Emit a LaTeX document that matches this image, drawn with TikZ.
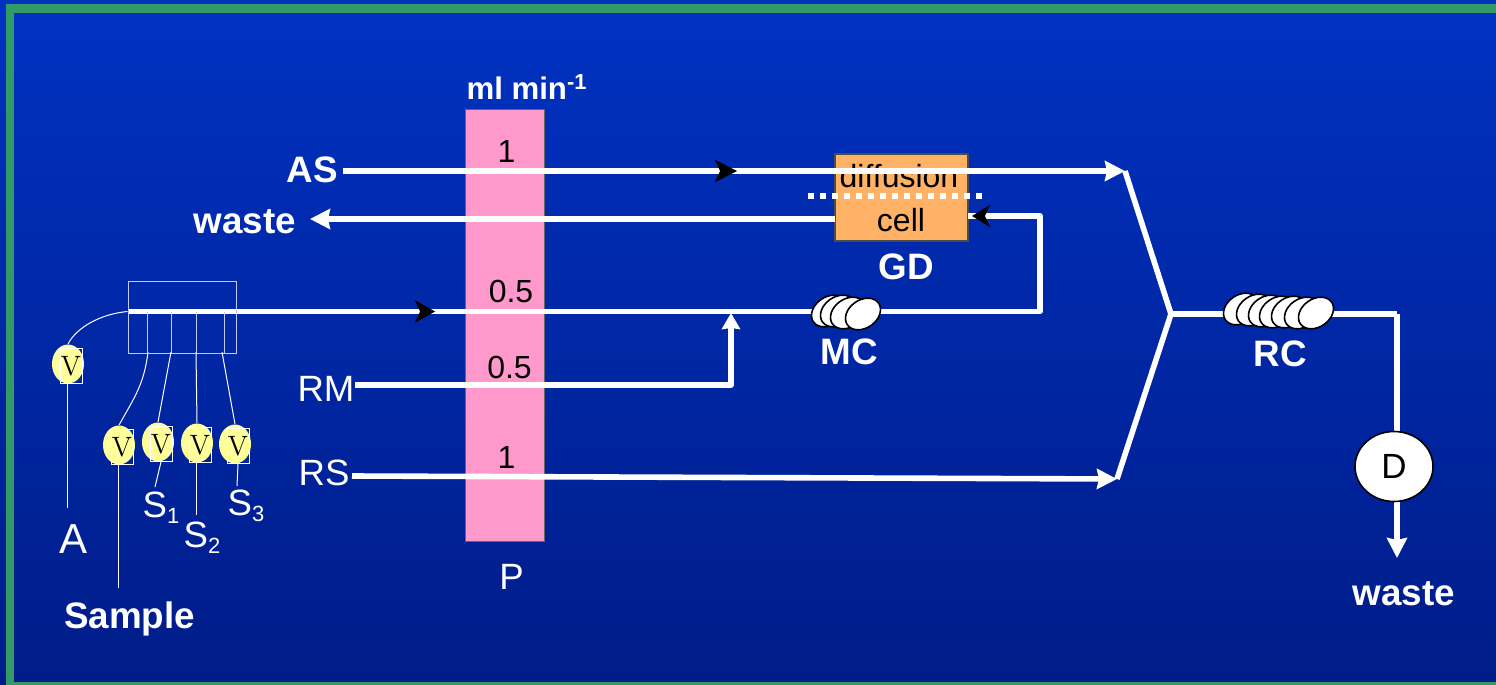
\documentclass[tikz,border=0pt]{standalone}
\usepackage{fontspec}
\setmainfont{Liberation Sans}
\usepackage{tikz}
\usetikzlibrary{arrows.meta,shapes.geometric,decorations.markings}
\definecolor{framegreen}{HTML}{339966}
\definecolor{pumppink}{HTML}{FF99CC}
\definecolor{cellorange}{HTML}{FFB266}
\definecolor{valveyellow}{HTML}{FFFF99}
\definecolor{skytop}{RGB}{0,50,194}
\definecolor{skybottom}{RGB}{0,28,136}
\newcommand{\lowsub}[1]{\raisebox{-3pt}{\fontsize{11}{12}\selectfont #1}}
\tikzset{
	flowline/.style={draw=white,line width=2.8pt,line join=round},
	flowtip/.style={-{Stealth[length=10pt,width=10pt,inset=1pt]}},
	thinline/.style={draw=white,line width=0.5pt},
	boxline/.style={draw=white!75!skytop,line width=0.5pt},
	midtip/.style={postaction={decorate},decoration={markings,mark=at position #1 with {\arrow{Stealth[length=11pt,width=11pt,inset=2.5pt,black]}}}},
	twotips/.style 2 args={postaction={decorate},decoration={markings,
		mark=at position #1 with {\arrow{Stealth[length=10pt,width=11pt,inset=2.5pt,black]}},
		mark=at position #2 with {\arrow{Stealth[length=9pt,width=11pt,inset=2.5pt,black]}}}},
	boldlabel/.style={text=white,font=\fontsize{18.4}{20}\selectfont\bfseries,inner sep=0pt},
	pluslabel/.style={text=white,font=\fontsize{18.3}{20}\selectfont,inner sep=0pt},
	ratelabel/.style={text=black,font=\fontsize{16}{18}\selectfont,inner sep=0pt},
	valvebody/.style={ellipse,fill=valveyellow,inner sep=0pt,minimum width=16pt,minimum height=19.5pt},
	valvebox/.style={draw=white,line width=0.5pt,inner sep=0pt,minimum width=11pt,minimum height=17.5pt,text=black,font=\fontfamily{lmr}\fontsize{14}{15}\selectfont},
	coilturn/.style={ellipse,draw=black,fill=white,line width=0.8pt,inner sep=0pt,minimum width=19pt,minimum height=14pt,rotate=35},
}
\begin{document}
\begin{tikzpicture}[x=0.5pt,y=-0.5pt]
\useasboundingbox (0,0) rectangle (1496,685);
% background and frame
\shade[top color=skytop,bottom color=skybottom] (0,0) rectangle (1496,685);
\fill[framegreen] (6,4) rectangle (1496,13);
\fill[framegreen] (6,4) rectangle (14,685);
\fill[framegreen] (6,682) rectangle (1496,685);

% pump and cell
\node[draw=black!60,line width=0.5pt,fill=pumppink,minimum width=39.5pt,minimum height=216pt,inner sep=0pt] (pump) at (504.5,325) {};
\node[draw=black!70,line width=0.6pt,fill=cellorange,minimum width=66.5pt,minimum height=43.5pt,inner sep=0pt] (cell) at (901.5,197.5) {};
\node[ratelabel] (diffusion) at (899,176) {diffusion};
\node[ratelabel] (celltext) at (901,220) {cell};

% named points of the lines
\coordinate (asin) at (343,171);
\coordinate (joinup) at (1125,171);
\coordinate (joinmid) at (1171,314);
\coordinate (joindown) at (1117,479);
\coordinate (wasteout) at (310,219);
\coordinate (cellout) at (835,219);
\coordinate (cellin) at (968,216);
\coordinate (turnup) at (1040,311.5);
\coordinate (turnleft) at (1040,216);
\coordinate (manifold) at (128,311.5);
\coordinate (rmin) at (355,385);
\coordinate (rmturn) at (731,385);
\coordinate (rmend) at (731,313);
\coordinate (rsin) at (352,476);
\coordinate (dturn) at (1397,314);
\coordinate (dend) at (1397,558);
\coordinate (dotleft) at (808,195.5);
\coordinate (dotright) at (986,195.5);

% flow lines
\draw[flowline,midtip=0.504,-{Stealth[length=10pt,width=10pt,inset=1pt]}] (asin) -- (joinup);
\draw[flowline,flowtip] (cellout) -- (wasteout);
\draw[flowline,twotips={0.2845}{0.9963}] (manifold) -- (turnup) -- (turnleft) -- (cellin);
\draw[flowline,-{Stealth[length=8pt,width=9pt,inset=0.5pt]}] (rmin) -- (rmturn) -- (rmend);
\draw[flowline,flowtip] (rsin) -- (joindown);
\draw[flowline] (joinup) -- (joinmid) -- (joindown);
\draw[flowline] (joinmid) -- (dturn);
\draw[flowline,flowtip] (dturn) -- (dend);
\draw[white,line width=3pt,dash pattern=on 3pt off 3pt] (dotleft) -- (dotright);

% coils
\foreach \x/\y in {829/311,838/311,848/313,863/314}
	\node[coilturn] (mc\x) at (\x,\y) {};
\foreach \x/\y in {1241/309,1254/310,1266/311,1277/312,1289/312,1302/313,1316/313}
	\node[coilturn] (rc\x) at (\x,\y) {};
\node[ellipse,draw=black,fill=white,line width=0.8pt,minimum width=39pt,minimum height=35pt,inner sep=0pt,font=\fontsize{17.5}{18}\selectfont] (detector) at (1394,466.5) {D};

% manifold and valves
\node[boxline,minimum width=54pt,minimum height=36pt,inner sep=0pt] (mbox) at (182,317) {};
\foreach \name/\x/\y in {a/68/364,s/119/445,one/158/442,two/197/443,three/235/444}{
	\node[valvebody] (valve\name) at (\x,\y) {};
	\node[valvebox] (box\name) at (\x+3,\y+2) {V};
}
\coordinate (porta) at (147,312);
\coordinate (portb) at (171,312);
\coordinate (portc) at (196,312);
\coordinate (portd) at (224,312);
\foreach \port in {porta,portb,portc,portd}
	\draw[boxline] (\port) -- (\port |- mbox.south);
\draw[thinline] (mbox.west |- manifold) .. controls (100,314) and (76,328) .. (valvea.north);
\draw[thinline] (148,352) .. controls (144,385) and (134,398) .. (valves.north);
\draw[thinline] (171,352) -- (valveone.north);
\draw[thinline] (196,352) -- (valvetwo.north);
\draw[thinline] (222,352) -- (valvethree.north);

% labels below the valves
\coordinate (enda) at (67,508);
\coordinate (ends) at (118,588);
\coordinate (endone) at (155,487);
\coordinate (endtwo) at (196,515);
\coordinate (endthree) at (237,486);
\draw[thinline] (boxa.south -| enda) -- (enda);
\draw[thinline] (boxs.south -| ends) -- (ends);
\draw[thinline] (boxone.south) -- (endone);
\draw[thinline] (boxtwo.south -| endtwo) -- (endtwo);
\draw[thinline] (boxthree.south) -- (endthree);

\node[text=white,font=\fontsize{21}{22}\selectfont,inner sep=0pt] (labela) at (74,539) {A};
\node[pluslabel] (labelone) at (161,508) {S\lowsub{1}};
\node[pluslabel] (labeltwo) at (202,538) {S\lowsub{2}};
\node[pluslabel] (labelthree) at (246,506) {S\lowsub{3}};
\node[boldlabel] (sample) at (129.5,619) {Sample};
\node[boldlabel] (as) at (312,170) {AS};
\node[boldlabel] (wastea) at (245,222) {waste};
\node[pluslabel] (rm) at (326,389) {RM};
\node[pluslabel] (rs) at (324,473) {RS};
\node[boldlabel] (gd) at (906.5,267) {GD};
\node[boldlabel] (mc) at (849.5,352) {MC};
\node[boldlabel] (rc) at (1280,354) {RC};
\node[boldlabel] (wasteb) at (1404,594) {waste};
\node[pluslabel] (pumplabel) at (511.5,577) {P};
\node[boldlabel,font=\fontsize{15.6}{18}\selectfont\bfseries] (rate) at (527,87) {ml min\textsuperscript{-1}};
\node[ratelabel] (ratea) at (506.5,151) {1};
\node[ratelabel] (rateb) at (511,291) {0.5};
\node[ratelabel] (ratec) at (509.5,367) {0.5};
\node[ratelabel] (rated) at (506.5,457) {1};
\end{tikzpicture}
\end{document}
